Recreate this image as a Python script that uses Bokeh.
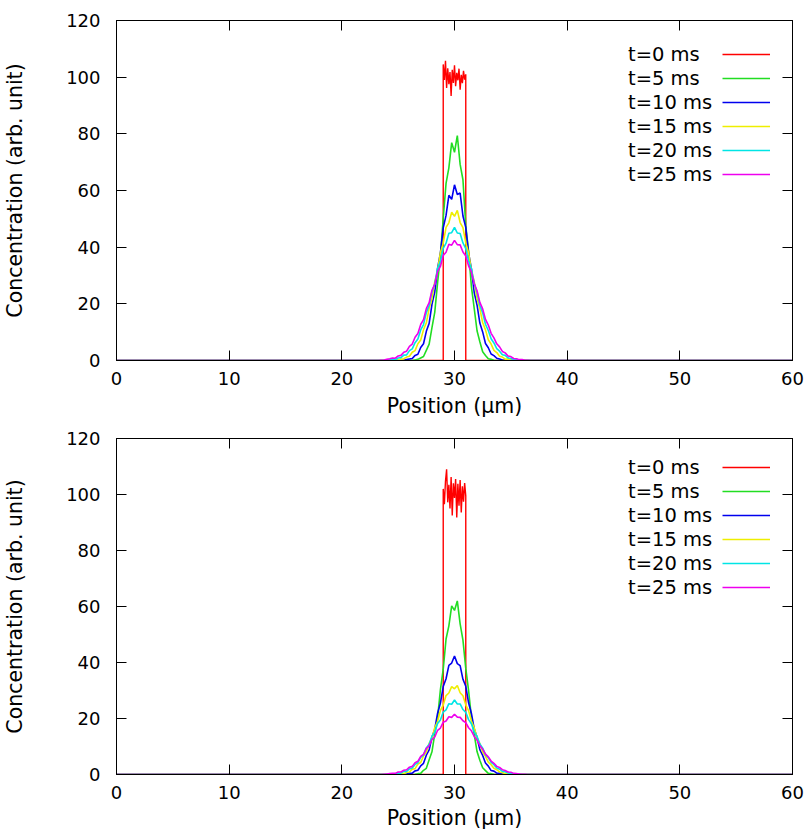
from bokeh.plotting import figure
from bokeh.layouts import column
from bokeh.models import (Range1d, LinearAxis, SingleIntervalTicker, Legend,
                          LegendItem, CustomJSTickFormatter)
from bokeh.embed import file_html
from bokeh.resources import INLINE

# ---------------- data ----------------
POSITION = [0.0, 23.0, 23.25, 23.5, 23.75, 24.0, 24.25, 24.5, 24.75, 25.0, 25.25,
            25.5, 25.75, 26.0, 26.25, 26.5, 26.75, 27.0, 27.25, 27.5, 27.75, 28.0,
            28.25, 28.5, 28.75, 29.0, 29.25, 29.5, 29.75, 30.0, 30.25, 30.5, 30.75,
            31.0, 31.25, 31.5, 31.75, 32.0, 32.25, 32.5, 32.75, 33.0, 33.25, 33.5,
            33.75, 34.0, 34.25, 34.5, 34.75, 35.0, 35.25, 35.5, 35.75, 36.0, 36.25,
            36.5, 36.75, 37.0, 60.0]

RED_POSITION = [0.0, 29.0, 29.0, 29.1, 29.2, 29.3, 29.4, 29.5, 29.6, 29.7, 29.8,
                29.9, 30.0, 30.1, 30.2, 30.3, 30.4, 30.5, 30.6, 30.7, 30.8, 30.9,
                31.0, 31.0, 60.0]

LABELS = ["t=0 ms", "t=5 ms", "t=10 ms", "t=15 ms", "t=20 ms", "t=25 ms"]
COLORS = ["#ff0000", "#22dd22", "#0000ee", "#eeee00", "#00e5e5", "#ee00ee"]

# upper panel
TOP_T0 = [0.0, 0.0, 104.5, 99.0, 105.8, 96.2, 103.1, 97.5, 101.8, 93.4, 102.6,
          98.0, 104.2, 96.8, 101.5, 98.9, 103.0, 95.6, 100.8, 97.9, 102.2, 99.1,
          101.0, 0.0, 0.0]
TOP_T5 = [0.0,
          0, 0, 0, 0, 0, 0, 0, 0, 0, 0, 0, 0, 0, 0,
          0.2, 0.4, 0.9, 1.4, 3.6, 5.8, 11.6, 17.1, 27.5, 36.8,
          50.2, 62.5, 68.0, 76.9, 73.5, 79.4, 69.2, 63.8, 47.6, 38.5,
          26.1, 18.4, 10.5, 6.6, 3.1, 1.8, 0.6, 0.4, 0.1,
          0, 0, 0, 0, 0, 0, 0, 0, 0, 0, 0, 0, 0, 0,
          0.0]
TOP_T10 = [0.0,
           0, 0, 0, 0, 0, 0, 0, 0, 0, 0,
           0.1, 0.3, 0.5, 0.7, 1.8, 2.2, 4.6, 5.9, 10.3, 13.1,
           19.8, 24.2, 32.6, 38.0, 46.8, 51.2, 58.3, 56.9, 62.0, 58.6,
           59.1, 51.0, 47.0, 37.9, 32.4, 24.0, 19.6, 13.2, 10.1, 6.0,
           4.5, 2.3, 1.7, 0.8, 0.5, 0.2, 0.1,
           0, 0, 0, 0, 0, 0, 0, 0, 0, 0,
           0.0]
TOP_T15 = [0.0,
           0, 0, 0, 0, 0, 0, 0, 0,
           0.2, 0.5, 0.6, 1.2, 1.5, 2.9, 3.5, 5.9, 7.2, 10.9,
           13.3, 18.4, 21.8, 27.9, 31.7, 38.1, 41.4, 47.0, 48.6, 52.3,
           50.9, 53.0, 48.7, 46.9, 41.5, 38.0, 31.8, 27.8, 21.9, 18.3,
           13.4, 10.8, 7.3, 5.8, 3.6, 2.8, 1.5, 1.2, 0.5, 0.5, 0.1,
           0, 0, 0, 0, 0, 0, 0, 0,
           0.0]
TOP_T20 = [0.0,
           0, 0, 0, 0, 0,
           0.2, 0.4, 0.3, 0.9, 1.0, 1.9, 2.0, 3.5, 4.1, 6.3,
           7.6, 10.8, 12.7, 16.9, 19.4, 24.3, 27.1, 32.5, 35.0, 39.6,
           41.4, 44.9, 45.1, 47.0, 45.0, 44.8, 41.5, 39.5, 35.2, 32.3,
           27.3, 24.1, 19.5, 16.8, 12.8, 10.6, 7.7, 6.2, 4.2, 3.3,
           2.0, 1.8, 0.9, 0.8, 0.3, 0.4, 0.1,
           0, 0, 0, 0, 0,
           0.0]
TOP_T25 = [0.0,
           0, 0, 0.1, 0.2, 0.4, 0.6, 0.9, 0.8, 1.6, 1.8,
           2.9, 3.3, 5.0, 5.8, 8.2, 9.5, 12.7, 14.4, 18.3, 20.4,
           24.8, 26.9, 31.4, 33.2, 37.1, 38.2, 41.0, 40.7, 42.4, 40.9,
           40.8, 38.3, 36.9, 33.4, 31.2, 27.1, 24.6, 20.5, 18.2, 14.5,
           12.5, 9.6, 8.0, 5.9, 4.8, 3.2, 2.7, 1.6, 1.4, 0.7,
           0.6, 0.3, 0.3, 0.1, 0.1, 0, 0,
           0.0]

# lower panel
BOT_T0 = [0.0, 0.0, 102.0, 96.5, 104.8, 109.0, 97.2, 103.5, 95.0, 106.2, 92.5,
          104.0, 98.8, 105.5, 91.8, 103.8, 96.0, 105.2, 93.6, 102.9, 97.4, 104.1,
          99.5, 0.0, 0.0]
BOT_T5 = [0.0,
          0, 0, 0, 0, 0, 0, 0, 0, 0, 0, 0, 0, 0, 0,
          0.1, 0.3, 0.4, 1.5, 2.2, 5.3, 8.1, 14.6, 20.2, 30.3,
          37.6, 48.4, 53.1, 60.2, 58.6, 62.0, 53.8, 48.0, 37.9, 30.0,
          20.4, 14.3, 8.2, 5.1, 2.4, 1.4, 0.4, 0.3, 0.1,
          0, 0, 0, 0, 0, 0, 0, 0, 0, 0, 0, 0, 0, 0,
          0.0]
BOT_T10 = [0.0,
           0, 0, 0, 0, 0, 0, 0, 0, 0, 0,
           0.1, 0.2, 0.4, 0.5, 1.3, 1.5, 3.1, 4.0, 6.9, 8.8,
           13.3, 16.2, 21.9, 25.5, 31.4, 34.2, 39.0, 39.8, 42.3, 39.6,
           38.9, 34.0, 31.5, 25.6, 21.8, 16.3, 13.2, 8.9, 6.8, 4.1,
           3.0, 1.4, 1.2, 0.5, 0.4, 0.1, 0.1,
           0, 0, 0, 0, 0, 0, 0, 0, 0, 0,
           0.0]
BOT_T15 = [0.0,
           0, 0, 0, 0, 0, 0, 0, 0,
           0.1, 0.3, 0.3, 0.8, 0.9, 1.9, 2.1, 3.7, 4.3, 6.6,
           8.0, 11.1, 13.0, 16.8, 19.0, 22.9, 24.8, 28.2, 29.1, 31.4,
           30.6, 31.8, 29.2, 28.1, 24.9, 22.8, 19.1, 16.7, 13.1, 11.0,
           8.0, 6.5, 4.4, 3.5, 2.2, 1.7, 0.9, 0.7, 0.3, 0.3, 0.1,
           0, 0, 0, 0, 0, 0, 0, 0,
           0.0]
BOT_T20 = [0.0,
           0, 0, 0, 0, 0,
           0.1, 0.2, 0.2, 0.5, 0.5, 1.1, 1.1, 2.0, 2.3, 3.6,
           4.2, 6.1, 7.0, 9.5, 10.8, 13.7, 15.1, 18.2, 19.5, 22.3,
           23.1, 25.3, 25.1, 26.6, 25.2, 25.2, 23.2, 22.2, 19.6, 18.1,
           15.2, 13.6, 10.9, 9.4, 7.1, 6.0, 4.3, 3.5, 2.3, 1.9,
           1.1, 1.0, 0.5, 0.5, 0.2, 0.2, 0.1,
           0, 0, 0, 0, 0,
           0.0]
BOT_T25 = [0.0,
           0, 0, 0, 0.1, 0.2, 0.3, 0.4, 0.4, 0.9, 0.9,
           1.5, 1.7, 2.6, 2.9, 4.2, 4.7, 6.5, 7.2, 9.3, 10.2,
           12.5, 13.4, 15.8, 16.6, 18.7, 19.1, 20.6, 20.4, 21.5, 20.5,
           20.4, 19.2, 18.5, 16.7, 15.6, 13.6, 12.3, 10.3, 9.1, 7.3,
           6.3, 4.8, 4.0, 2.9, 2.5, 1.7, 1.4, 0.9, 0.8, 0.4,
           0.3, 0.2, 0.1, 0.1, 0, 0, 0,
           0.0]

X_LABEL = "Position (µm)"
Y_LABEL = "Concentration (arb. unit)"
FONT = "DejaVu Sans"

for s in (TOP_T5, TOP_T10, TOP_T15, TOP_T20, TOP_T25,
          BOT_T5, BOT_T10, BOT_T15, BOT_T20, BOT_T25):
    assert len(s) == len(POSITION), len(s)
assert len(TOP_T0) == len(RED_POSITION) and len(BOT_T0) == len(RED_POSITION)


def base_axis_style(ax, interval):
    ax.ticker = SingleIntervalTicker(interval=interval, num_minor_ticks=0)
    ax.major_tick_in = 10
    ax.major_tick_out = 0
    ax.minor_tick_line_color = None
    ax.axis_line_color = "black"
    ax.major_tick_line_color = "black"
    ax.major_label_text_font = FONT
    ax.major_label_text_font_size = "18px"
    ax.major_label_text_color = "black"
    ax.axis_label_text_font = FONT
    ax.axis_label_text_font_size = "20.5px"
    ax.axis_label_text_font_style = "normal"
    ax.axis_label_text_color = "black"


def mirror_axis(interval):
    ax = LinearAxis()
    base_axis_style(ax, interval)
    ax.formatter = CustomJSTickFormatter(code="return ''")
    ax.major_label_text_font_size = "0px"
    ax.major_label_standoff = 0
    return ax


def make_panel(series, height, top, bottom, legend_vy, label_standoff):
    p = figure(width=804, height=height,
               x_range=Range1d(0, 60), y_range=Range1d(0, 120),
               output_backend="svg", toolbar_location=None,
               min_border_left=116, min_border_right=12,
               min_border_top=top, min_border_bottom=bottom,
               x_axis_label=X_LABEL, y_axis_label=Y_LABEL)
    p.background_fill_color = "white"
    p.border_fill_color = "white"
    p.outline_line_color = "black"
    p.outline_line_width = 1
    p.xgrid.visible = False
    p.ygrid.visible = False

    xa = p.xaxis[0]
    base_axis_style(xa, 10)
    xa.major_label_standoff = 11
    xa.axis_label_standoff = label_standoff
    ya = p.yaxis[0]
    base_axis_style(ya, 20)
    ya.major_label_standoff = 16
    ya.axis_label_standoff = 36

    p.add_layout(mirror_axis(10), "above")
    p.add_layout(mirror_axis(20), "right")

    rs = [p.line(RED_POSITION, series[0], line_color=COLORS[0], line_width=1.4)]
    for vals, col in zip(series[1:], COLORS[1:]):
        rs.append(p.line(POSITION, vals, line_color=col, line_width=1.6))

    common = dict(glyph_height=24, label_height=24, spacing=0, padding=0,
                  margin=0, label_text_font=FONT, label_text_font_size="19.5px",
                  label_text_color="black", background_fill_alpha=0,
                  border_line_alpha=0)
    leg_text = Legend(items=[LegendItem(label=l, renderers=[r])
                             for l, r in zip(LABELS, rs)],
                      location=(512, legend_vy), glyph_width=0,
                      label_standoff=0, **common)
    leg_line = Legend(items=[LegendItem(label=" ", renderers=[r]) for r in rs],
                      location=(606, legend_vy), glyph_width=48,
                      label_standoff=0, label_width=0, **common)
    p.add_layout(leg_text)
    p.add_layout(leg_line)
    return p


p1 = make_panel([TOP_T0, TOP_T5, TOP_T10, TOP_T15, TOP_T20, TOP_T25],
                height=426, top=20, bottom=66, legend_vy=174, label_standoff=6)
p2 = make_panel([BOT_T0, BOT_T5, BOT_T10, BOT_T15, BOT_T20, BOT_T25],
                height=408, top=12, bottom=60, legend_vy=175, label_standoff=4)

layout = column(p1, p2, spacing=0)
open("out.html", "w").write(file_html(layout, INLINE))
